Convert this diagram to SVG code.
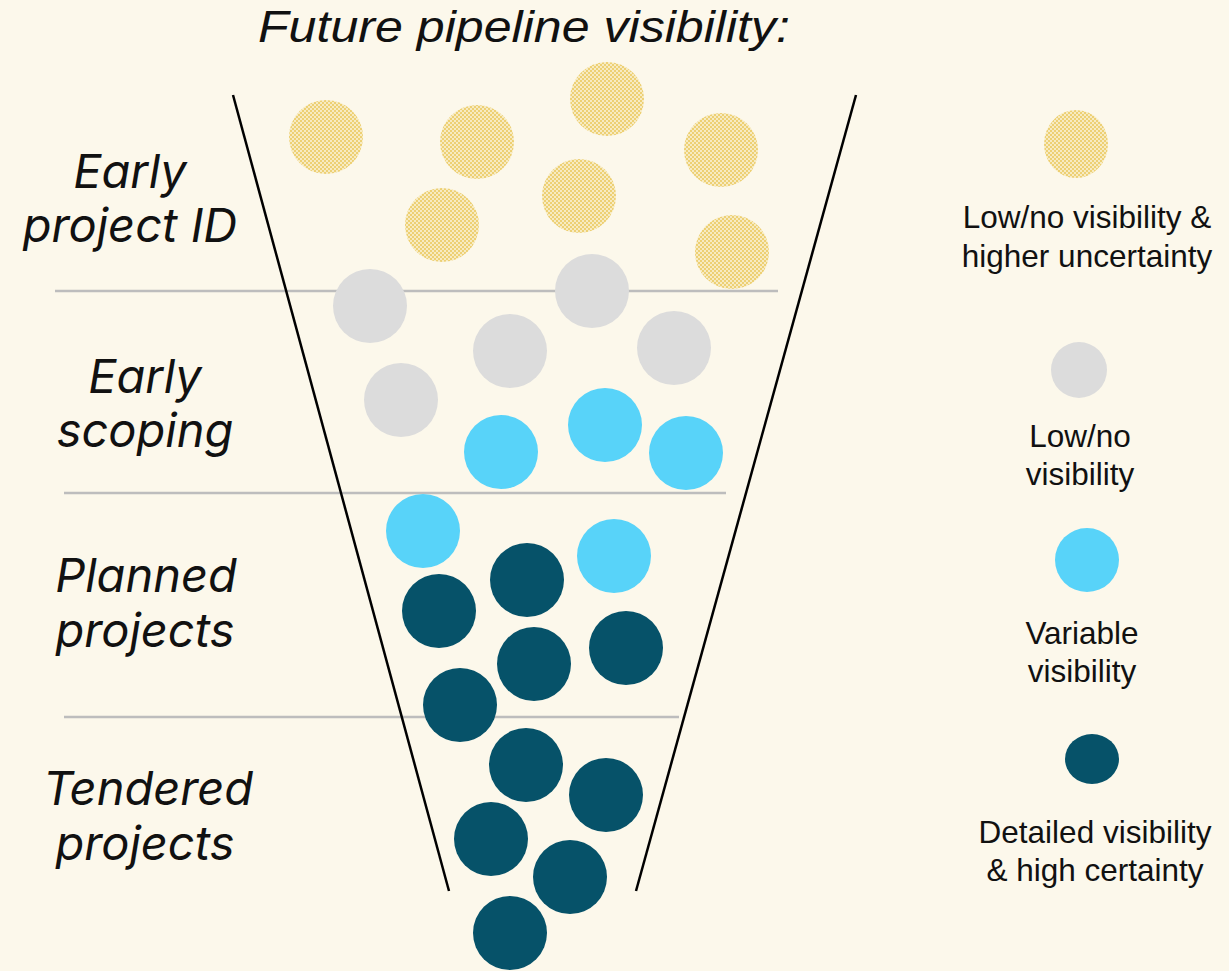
<svg xmlns="http://www.w3.org/2000/svg" width="1229" height="971" viewBox="0 0 1229 971">
<style>
.lbl{font-family:Inter,"Liberation Sans",sans-serif;font-style:italic;font-size:47px;fill:#111;text-anchor:middle}
.ttl{font-family:"Liberation Sans",Arial,sans-serif;font-style:italic;font-size:44px;fill:#111}
.leg{font-family:"Liberation Sans",Arial,sans-serif;font-size:31.5px;fill:#111;text-anchor:middle}
.y{fill:url(#chk)}
.g{fill:#DCDCDC}
.b{fill:#58D3F9}
.d{fill:#065269}
.sep{stroke:#BDBDBD;stroke-width:2.5}
.fn{stroke:#000;stroke-width:2.5}
</style>
<defs>
<pattern id="chk" width="4" height="4" patternUnits="userSpaceOnUse">
<rect width="4" height="4" fill="#F7EBC2"/>
<rect x="0" y="0" width="2" height="2" fill="#EDD074"/>
<rect x="2" y="2" width="2" height="2" fill="#EDD074"/>
</pattern>
</defs>
<rect width="1229" height="971" fill="#FCF8EB"/>
<text class="ttl" x="258" y="42" textLength="532" lengthAdjust="spacingAndGlyphs">Future pipeline visibility:</text>
<g id="labels">
<text class="lbl" x="130" y="188">Early</text>
<text class="lbl" x="130" y="242">project ID</text>
<text class="lbl" x="145" y="393">Early</text>
<text class="lbl" x="145" y="447">scoping</text>
<text class="lbl" x="146" y="592">Planned</text>
<text class="lbl" x="145" y="647">projects</text>
<text class="lbl" x="148" y="805">Tendered</text>
<text class="lbl" x="145" y="860">projects</text>
</g>
<g id="connectors">
<line class="sep" x1="55" y1="291" x2="778" y2="291"/>
<line class="sep" x1="64" y1="493" x2="726" y2="493"/>
<line class="sep" x1="64" y1="717" x2="679" y2="717"/>
<line class="fn" x1="233" y1="95" x2="449" y2="891"/>
<line class="fn" x1="856" y1="95" x2="636" y2="891"/>
</g>
<g id="yellow">
<circle class="y" cx="326" cy="137" r="37"/>
<circle class="y" cx="477" cy="142" r="37"/>
<circle class="y" cx="607" cy="99" r="37"/>
<circle class="y" cx="721" cy="150" r="37"/>
<circle class="y" cx="579" cy="196" r="37"/>
<circle class="y" cx="442" cy="225" r="37"/>
<circle class="y" cx="732" cy="252" r="37"/>
</g>
<g id="gray">
<circle class="g" cx="370" cy="306" r="37"/>
<circle class="g" cx="592" cy="291" r="37"/>
<circle class="g" cx="510" cy="351" r="37"/>
<circle class="g" cx="674" cy="348" r="37"/>
<circle class="g" cx="401" cy="400" r="37"/>
</g>
<g id="blue">
<circle class="b" cx="501" cy="452" r="37"/>
<circle class="b" cx="605" cy="425" r="37"/>
<circle class="b" cx="686" cy="453" r="37"/>
<circle class="b" cx="423" cy="531" r="37"/>
<circle class="b" cx="614" cy="556" r="37"/>
</g>
<g id="dark">
<circle class="d" cx="527" cy="580" r="37"/>
<circle class="d" cx="439" cy="611" r="37"/>
<circle class="d" cx="534" cy="664" r="37"/>
<circle class="d" cx="626" cy="648" r="37"/>
<circle class="d" cx="460" cy="705" r="37"/>
<circle class="d" cx="526" cy="765" r="37"/>
<circle class="d" cx="606" cy="795" r="37"/>
<circle class="d" cx="491" cy="839" r="37"/>
<circle class="d" cx="570" cy="877" r="37"/>
<circle class="d" cx="510" cy="933" r="37"/>
</g>
<g id="legend-yellow">
<ellipse class="y" cx="1076" cy="144" rx="32" ry="34"/>
<text class="leg" x="1087" y="228">Low/no visibility &amp;</text>
<text class="leg" x="1087" y="267">higher uncertainty</text>
</g>
<g id="legend-gray">
<circle class="g" cx="1079" cy="370" r="28"/>
<text class="leg" x="1080" y="447">Low/no</text>
<text class="leg" x="1080" y="485">visibility</text>
</g>
<g id="legend-blue">
<circle class="b" cx="1087" cy="560" r="32"/>
<text class="leg" x="1082" y="644">Variable</text>
<text class="leg" x="1082" y="682">visibility</text>
</g>
<g id="legend-dark">
<ellipse class="d" cx="1092" cy="759" rx="27" ry="25"/>
<text class="leg" x="1095" y="843">Detailed visibility</text>
<text class="leg" x="1095" y="881">&amp; high certainty</text>
</g>
</svg>
